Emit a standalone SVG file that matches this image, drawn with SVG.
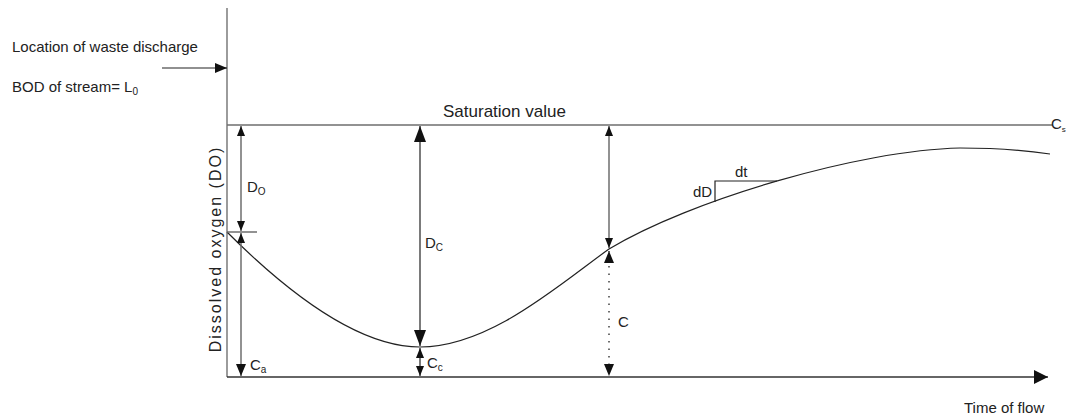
<svg xmlns="http://www.w3.org/2000/svg" width="1067" height="416" viewBox="0 0 1067 416">
<defs>
<style>
text{font-family:"Liberation Sans",Arial,sans-serif;fill:#222}
.lbl{font-size:15px}
.sub{font-size:10px}
.gray{stroke:#6e6e6e;stroke-width:1.5;fill:none}
.blk{stroke:#222;stroke-width:1.2;fill:none}
</style>
<marker id="hs" markerUnits="userSpaceOnUse" markerWidth="12" markerHeight="10" refX="10" refY="4" orient="auto-start-reverse"><path d="M0,0 L10,4 L0,8 z" fill="#111"/></marker>
<marker id="hb" markerUnits="userSpaceOnUse" markerWidth="18" markerHeight="14" refX="16" refY="6" orient="auto-start-reverse"><path d="M0,0 L16,6 L0,12 z" fill="#111"/></marker>
<marker id="hm" markerUnits="userSpaceOnUse" markerWidth="14" markerHeight="12" refX="12" refY="5" orient="auto-start-reverse"><path d="M0,0 L12,5 L0,10 z" fill="#111"/></marker>
<marker id="hx" markerUnits="userSpaceOnUse" markerWidth="16" markerHeight="16" refX="14" refY="7" orient="auto"><path d="M0,0 L14,7 L0,14 z" fill="#111"/></marker>
</defs>

<g id="axes">
<line x1="227" y1="8" x2="227" y2="377" stroke="#666" stroke-width="1.3"/>
<line x1="227" y1="377" x2="1048" y2="377" stroke="#333" stroke-width="1.3" marker-end="url(#hx)"/>
<text x="964" y="413" class="lbl">Time of flow</text>
<text transform="translate(221,249) rotate(-90)" text-anchor="middle" font-size="16" letter-spacing="2">Dissolved oxygen (DO)</text>
</g>

<g id="saturation">
<line x1="227" y1="125" x2="1053" y2="125" class="gray"/>
<text x="443" y="117" font-size="17">Saturation value</text>
<text x="1051" y="129" class="lbl">C<tspan font-size="8" dy="3">s</tspan></text>
</g>

<g id="discharge">
<text x="12" y="52" class="lbl">Location of waste discharge</text>
<text x="12" y="92" class="lbl">BOD of stream= L<tspan class="sub" dy="3">0</tspan></text>
</g>

<g id="curve">
<path d="M227,232 C290,295 360,347 420,347 C490,347 560,284 609,249 C690,200 860,150 960,148 C1000,148 1030,151 1050,154" class="blk"/>
<line x1="227" y1="232" x2="257" y2="232" class="gray"/>
<polyline points="715,202 715,181 777,181" class="blk"/>
<text x="693" y="197" class="lbl">dD</text>
<text x="735" y="177" class="lbl">dt</text>
</g>

<g id="connectors">
<line x1="162" y1="68" x2="227" y2="68" class="blk" marker-end="url(#hm)"/>
<line x1="241" y1="126" x2="241" y2="231" class="gray" marker-start="url(#hs)" marker-end="url(#hs)"/>
<line x1="241" y1="233" x2="241" y2="376" class="gray" marker-start="url(#hs)" marker-end="url(#hm)"/>
<line x1="420" y1="126" x2="420" y2="346" class="blk" stroke-width="1.4" marker-start="url(#hb)" marker-end="url(#hb)"/>
<line x1="420" y1="348" x2="420" y2="376" class="blk" marker-start="url(#hs)" marker-end="url(#hs)"/>
<line x1="609" y1="126" x2="609" y2="248" class="gray" marker-start="url(#hs)" marker-end="url(#hs)"/>
<line x1="609" y1="251" x2="609" y2="376" stroke="#222" stroke-width="1.3" stroke-dasharray="1.5,6" fill="none" marker-start="url(#hm)" marker-end="url(#hm)"/>
</g>

<g id="labels">
<text x="247" y="192" class="lbl">D<tspan class="sub" dy="3">O</tspan></text>
<text x="250" y="370" class="lbl">C<tspan class="sub" dy="3">a</tspan></text>
<text x="425" y="248" class="lbl">D<tspan class="sub" dy="3">C</tspan></text>
<text x="427" y="368" class="lbl">C<tspan class="sub" dy="3">c</tspan></text>
<text x="618" y="327" class="lbl">C</text>
</g>
</svg>
